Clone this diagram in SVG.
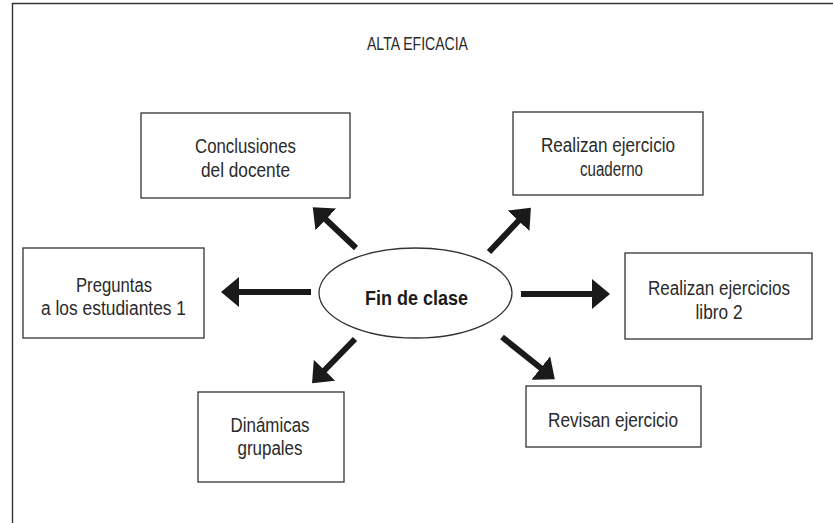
<svg xmlns="http://www.w3.org/2000/svg" width="833" height="523" viewBox="0 0 833 523">
<defs>
<style>
.box{fill:#fff;stroke:#333;stroke-width:1.3}
.t{font-family:"Liberation Sans",Arial,sans-serif;font-size:20px;fill:#2a2a2a;text-anchor:middle}
.b{font-weight:bold;font-size:21px;fill:#1a1a1a}
.arr{stroke:#1a1a1a;stroke-width:6;fill:none;marker-end:url(#ah)}
</style>
<marker id="ah" markerUnits="userSpaceOnUse" markerWidth="18" markerHeight="30" viewBox="0 0 18 30" refX="8" refY="15" orient="auto">
<path d="M0,0 L18,15 L0,30 z" fill="#1a1a1a"/>
</marker>
</defs>
<rect width="833" height="523" fill="#fff"/>
<path d="M12.5,530 V3.5 H840" fill="none" stroke="#333" stroke-width="1.4"/>
<text class="t" x="417.5" y="50" style="font-size:18px" textLength="101" lengthAdjust="spacingAndGlyphs">ALTA EFICACIA</text>

<g id="conclusiones">
<rect class="box" x="141" y="113" width="209" height="85"/>
<text class="t" x="245.5" y="153" textLength="101" lengthAdjust="spacingAndGlyphs">Conclusiones</text>
<text class="t" x="245.5" y="177" textLength="89" lengthAdjust="spacingAndGlyphs">del docente</text>
</g>
<g id="cuaderno">
<rect class="box" x="513" y="112" width="190" height="83"/>
<text class="t" x="608" y="152" textLength="134" lengthAdjust="spacingAndGlyphs">Realizan ejercicio</text>
<text class="t" x="611.5" y="176" textLength="63" lengthAdjust="spacingAndGlyphs">cuaderno</text>
</g>
<g id="preguntas">
<rect class="box" x="23" y="248" width="181" height="90"/>
<text class="t" x="114" y="292" textLength="76" lengthAdjust="spacingAndGlyphs">Preguntas</text>
<text class="t" x="113.5" y="315" textLength="145" lengthAdjust="spacingAndGlyphs">a los estudiantes 1</text>
</g>
<g id="fin">
<ellipse cx="415.5" cy="293" rx="96.5" ry="45" fill="#fff" stroke="#333" stroke-width="1.3"/>
<text class="t b" x="416.5" y="305" textLength="103" lengthAdjust="spacingAndGlyphs">Fin de clase</text>
</g>
<g id="libro">
<rect class="box" x="625" y="253" width="187" height="86"/>
<text class="t" x="719" y="295" textLength="142" lengthAdjust="spacingAndGlyphs">Realizan ejercicios</text>
<text class="t" x="719" y="319" textLength="47" lengthAdjust="spacingAndGlyphs">libro 2</text>
</g>
<g id="revisan">
<rect class="box" x="526" y="386" width="175" height="61"/>
<text class="t" x="613" y="427" textLength="130" lengthAdjust="spacingAndGlyphs">Revisan ejercicio</text>
</g>
<g id="dinamicas">
<rect class="box" x="198" y="392" width="146" height="90"/>
<text class="t" x="270" y="432" textLength="79" lengthAdjust="spacingAndGlyphs">Dinámicas</text>
<text class="t" x="270" y="455" textLength="65" lengthAdjust="spacingAndGlyphs">grupales</text>
</g>

<g id="connectors">
<line class="arr" x1="311" y1="292" x2="231" y2="292"/>
<line class="arr" x1="521" y1="294" x2="600" y2="294"/>
<line class="arr" x1="356" y1="248" x2="320" y2="214"/>
<line class="arr" x1="489" y1="252" x2="524" y2="215"/>
<line class="arr" x1="355" y1="339" x2="319" y2="376"/>
<line class="arr" x1="502" y1="337" x2="547" y2="373"/>
</g>
</svg>
